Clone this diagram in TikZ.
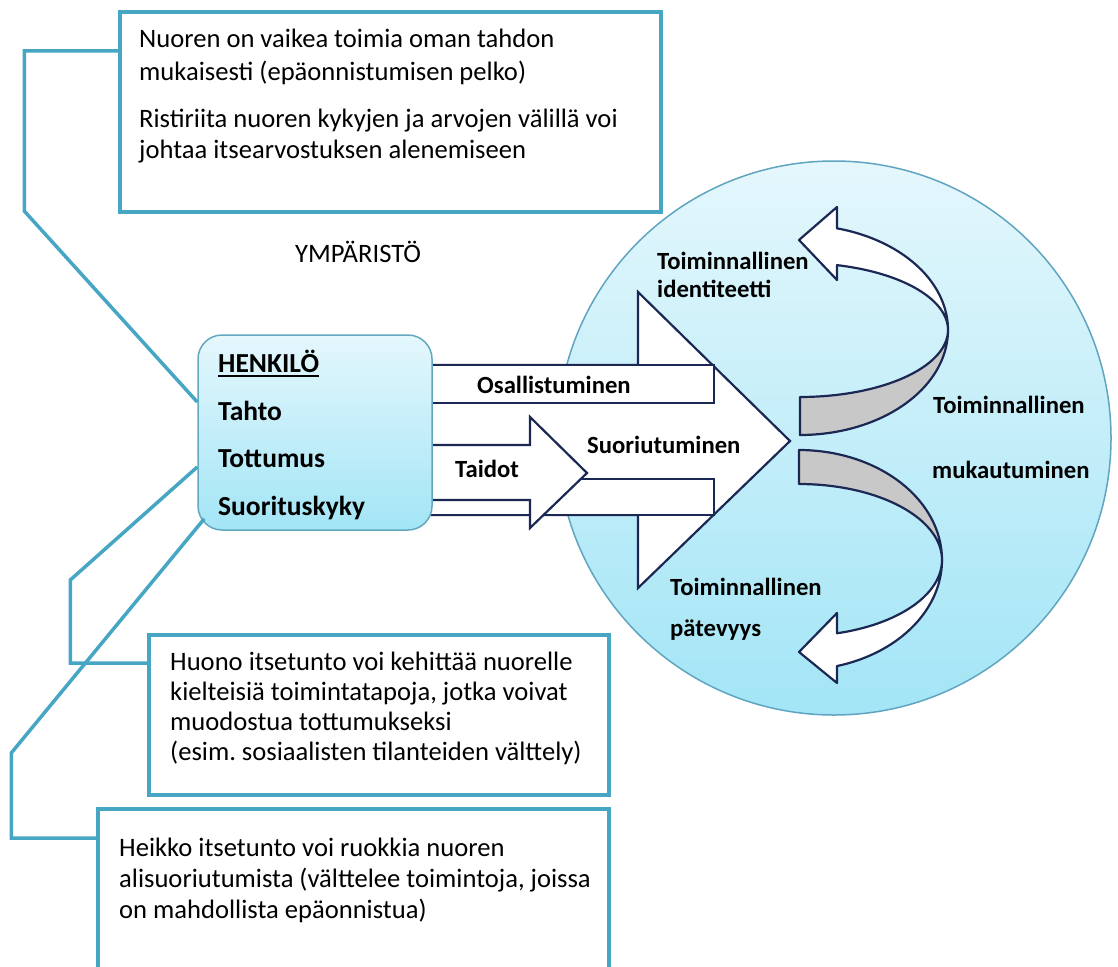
\documentclass[tikz,border=0pt]{standalone}
\usepackage{fontspec}
\setmainfont{Carlito}
\definecolor{teal1}{RGB}{70,166,196}
\definecolor{navy}{RGB}{28,40,84}
\definecolor{ringc}{RGB}{95,165,192}
\definecolor{ringtop}{RGB}{228,247,252}
\definecolor{ringbot}{RGB}{163,229,246}
\definecolor{hb}{RGB}{100,168,192}
\definecolor{ribgray}{RGB}{200,200,200}
\begin{document}
\begin{tikzpicture}[x=1pt,y=-1pt,
  box/.style={draw=teal1, line width=3.5pt, fill=white, inner sep=0, rectangle},
  link/.style={draw=teal1, line width=3.5pt},
  txt/.style={anchor=base west, inner sep=0, font=\fontsize{26.6}{30}\selectfont},
  lbl/.style={anchor=base west, inner sep=0, font=\bfseries\fontsize{24.7}{28}\selectfont},
  htxt/.style={anchor=base west, inner sep=0, font=\bfseries\fontsize{27.5}{32}\selectfont},
  arr/.style={draw=navy, line width=2.2pt, fill=white, line join=miter},
  rib/.style={draw=navy, line width=2.2pt, line join=round},
]
\useasboundingbox (0,0) rectangle (1118,966);
\clip (0,0) rectangle (1118,966);

% environment circle
\node[circle, draw=ringc, line width=1.5pt, top color=ringtop, bottom color=ringbot,
      minimum size=554pt, inner sep=0] (ring) at (834,438) {};

% boxes
\node[box, minimum width=541pt, minimum height=200pt] (topbox) at (390.5,112) {};
\node[box, minimum width=460pt, minimum height=160pt] (midbox) at (379,715) {};
\node[box, minimum width=511pt, minimum height=181pt] (botbox) at (353.5,899.5) {};

% big arrow (Suoriutuminen)
\draw[arr] (428,365) -- (638,365) -- (638,292) -- (790,441) -- (638,588) -- (638,515) -- (428,515);
% Osallistuminen band
\draw[arr] (428,365) -- (714,365) -- (714,403) -- (428,403);
% lower band
\draw[arr] (428,479) -- (714,479) -- (714,515) -- (428,515);
% Taidot arrow
\draw[arr] (428,445) -- (530,445) -- (530,417) -- (587,473) -- (530,528) -- (530,500) -- (428,500);

% upper curved ribbon arrow
\filldraw[rib, fill=ribgray]
  plot[domain=0:90, samples=40] ({800+148*cos(\x)},{330+105*sin(\x)})
  -- plot[domain=90:0, samples=40] ({800+148*cos(\x)},{330+67*sin(\x)}) -- cycle;
\filldraw[rib, fill=white]
  (837,265.1) -- (837,280) -- (799,240) -- (837,207) -- (837,228.3)
  -- plot[domain=-75.5:0, samples=40] ({800+148*cos(\x)},{330+105*sin(\x)})
  -- plot[domain=0:-75.5, samples=40] ({800+148*cos(\x)},{330+67*sin(\x)}) -- cycle;

% lower curved ribbon arrow
\filldraw[rib, fill=ribgray]
  plot[domain=-90:0, samples=40] ({799+143*cos(\x)},{560+110*sin(\x)})
  -- plot[domain=0:-90, samples=40] ({799+143*cos(\x)},{560+76*sin(\x)}) -- cycle;
\filldraw[rib, fill=white]
  (837,633.3) -- (837,613) -- (799,652) -- (837,683) -- (837,666)
  -- plot[domain=74.6:0, samples=40] ({799+143*cos(\x)},{560+110*sin(\x)})
  -- plot[domain=0:74.6, samples=40] ({799+143*cos(\x)},{560+76*sin(\x)}) -- cycle;

% HENKILO box
\node[rounded corners=24pt, draw=hb, line width=1.5pt, top color=ringtop, bottom color=ringbot,
      minimum width=234pt, minimum height=195pt, inner sep=0] (henk) at (315,432.5) {};

% connectors
\draw[link] ([yshift=61pt]topbox.west) -- ++(-94,0) -- ++(0,160) -- ([yshift=30.5pt]henk.west);
\draw[link] ([yshift=52pt]midbox.west) -- ++(-77,0) -- ++(0,-83) -- ([yshift=-34.5pt]henk.west);
\draw[link] ([yshift=61.5pt]botbox.west) -- ++(-85,0) -- ++(0,-85) -- ([shift={(7pt,12pt)}]henk.south west);

% texts
\node[txt] (a1) at (139,48) {Nuoren on vaikea toimia oman tahdon};
\node[txt] (a2) at (139,80) {mukaisesti (epäonnistumisen pelko)};
\node[txt] (a3) at (139,127) {Ristiriita nuoren kykyjen ja arvojen välillä voi};
\node[txt] (a4) at (139,158) {johtaa itsearvostuksen alenemiseen};

\node[txt] (env) at (295,262) {YMPÄRISTÖ};

\node[htxt] (h1) at (218,372) {HENKILÖ};
\draw[line width=2pt] ([yshift=-4pt]h1.base west) -- ([yshift=-4pt]h1.base east);
\node[htxt] (h2) at (218,420) {Tahto};
\node[htxt] (h3) at (218,467) {Tottumus};
\node[htxt] (h4) at (218,515) {Suorituskyky};

\node[lbl] (l1) at (477,393) {Osallistuminen};
\node[lbl] (l2) at (587,453) {Suoriutuminen};
\node[lbl] (l3) at (455,477) {Taidot};

\node[lbl] (c1) at (657,269) {Toiminnallinen};
\node[lbl] (c2) at (657,297) {identiteetti};
\node[lbl] (c3) at (933,413) {Toiminnallinen};
\node[lbl] (c4) at (932,478) {mukautuminen};
\node[lbl] (c5) at (670,595) {Toiminnallinen};
\node[lbl] (c6) at (670,636) {pätevyys};

\node[txt] (b1) at (170,670) {Huono itsetunto voi kehittää nuorelle};
\node[txt] (b2) at (170,700) {kielteisiä toimintatapoja, jotka voivat};
\node[txt] (b3) at (170,730) {muodostua tottumukseksi};
\node[txt] (b4) at (170,760) {(esim.\ sosiaalisten tilanteiden välttely)};

\node[txt] (d1) at (119,856) {Heikko itsetunto voi ruokkia nuoren};
\node[txt] (d2) at (119,887) {alisuoriutumista (välttelee toimintoja, joissa};
\node[txt] (d3) at (119,918) {on mahdollista epäonnistua)};
\end{tikzpicture}
\end{document}
